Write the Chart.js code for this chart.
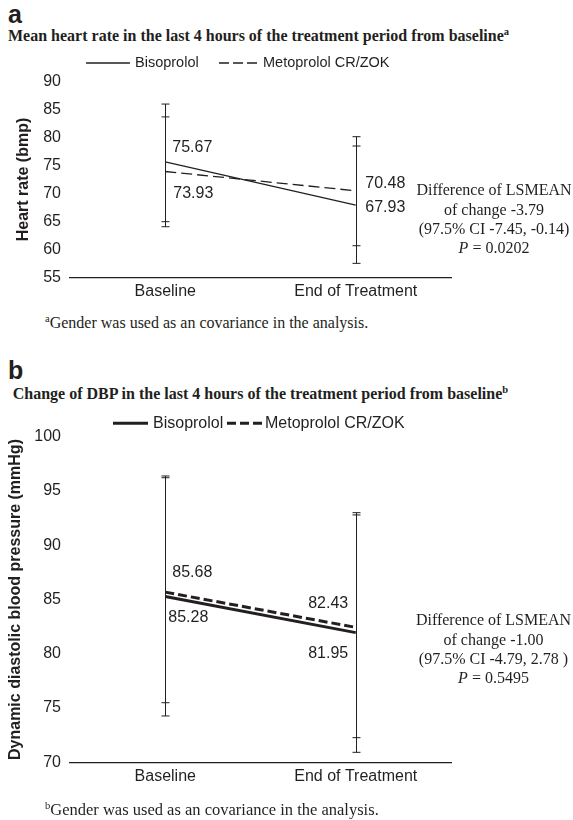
<!DOCTYPE html>
<html><head><meta charset="utf-8">
<script src="https://cdn.jsdelivr.net/npm/chart.js@4.4.1/dist/chart.umd.min.js"></script>
<style>
html,body{margin:0;padding:0;background:#fff;width:573px;height:820px;overflow:hidden;position:relative;color:#231f20}
.t{position:absolute;white-space:nowrap;line-height:0}
.panel{font:bold 25px "Liberation Sans",Arial,sans-serif}
.sub{font:bold 16px "Liberation Serif","Times New Roman",serif}
.foot{font:16px "Liberation Serif","Times New Roman",serif}
.sup{position:relative;font-size:10.5px}
.ann{position:absolute;font:16px "Liberation Serif","Times New Roman",serif;text-align:center;line-height:19.4px;width:200px;white-space:nowrap}
canvas{position:absolute;left:0}
</style></head>
<body>
<div class="t panel" style="left:8px;top:-0.5px">a</div>
<div class="t sub" style="left:8px;top:27px">Mean heart rate in the last 4 hours of the treatment period from baseline<span class="sup" style="top:-6px">a</span></div>
<canvas id="c1" width="573" height="310" style="top:0;width:573px;height:310px"></canvas>
<div class="ann" style="left:394px;top:180.2px">Difference of LSMEAN<br>of change -3.79<br>(97.5% CI -7.45, -0.14)<br><i>P</i> = 0.0202</div>
<div class="t foot" style="left:45px;top:313.6px"><span class="sup" style="top:-6px">a</span>Gender was used as an covariance in the analysis.</div>

<div class="t panel" style="left:8px;top:356px">b</div>
<div class="t sub" style="left:12.7px;top:384.6px">Change of DBP in the last 4 hours of the treatment period from baseline<span class="sup" style="top:-6px">b</span></div>
<canvas id="c2" width="573" height="410" style="top:400px;width:573px;height:410px"></canvas>
<div class="ann" style="left:393.5px;top:610.2px">Difference of LSMEAN<br>of change -1.00<br>(97.5% CI -4.79, 2.78 )<br><i>P</i> = 0.5495</div>
<div class="t foot" style="left:45px;top:799.6px;font-size:16.5px"><span class="sup" style="top:-6px">b</span>Gender was used as an covariance in the analysis.</div>

<script>
// ---------- data ----------
const categories = ['Baseline', 'End of Treatment'];
const seriesNames = ['Bisoprolol', 'Metoprolol CR/ZOK'];

// panel a: heart rate (bmp)
const hrBisoprolol = [75.67, 67.93];
const hrMetoprolol = [73.93, 70.48];
const hrBisoprololLow = [64.95, 57.5];
const hrBisoprololHigh = [86.0, 78.49];
const hrMetoprololLow = [64.05, 60.65];
const hrMetoprololHigh = [83.7, 80.16];
const hrAxis = [55, 90, 5]; // min, max, step

// panel b: dynamic diastolic blood pressure (mmHg)
const dbpBisoprolol = [85.28, 81.95];
const dbpMetoprolol = [85.68, 82.43];
const dbpBisoprololLow = [74.27, 70.92];
const dbpBisoprololHigh = [96.38, 93.0];
const dbpMetoprololLow = [75.49, 72.27];
const dbpMetoprololHigh = [96.22, 92.79];
const dbpAxis = [70, 100, 5];

// ---------- plugins ----------
const INK = '#231f20';
const SANS = '"Liberation Sans", Arial, sans-serif';

const errorBars = {
  id: 'errorBars',
  beforeDatasetsDraw(chart, args, opts) {
    const {ctx, scales: {x, y}} = chart;
    ctx.save();
    ctx.strokeStyle = INK; ctx.lineWidth = opts.width; ctx.setLineDash([]);
    opts.bars.forEach(b => {
      b.low.forEach((lo, i) => {
        const px = Math.round(x.getPixelForValue(i)) + 0.5;
        const yl = y.getPixelForValue(lo), yh = y.getPixelForValue(b.high[i]);
        ctx.beginPath();
        ctx.moveTo(px, yl); ctx.lineTo(px, yh);
        ctx.moveTo(px - opts.cap, yl); ctx.lineTo(px + opts.cap, yl);
        ctx.moveTo(px - opts.cap, yh); ctx.lineTo(px + opts.cap, yh);
        ctx.stroke();
      });
    });
    ctx.restore();
  }
};

const valueLabels = {
  id: 'valueLabels',
  afterDatasetsDraw(chart, args, opts) {
    const {ctx} = chart;
    ctx.save();
    ctx.fillStyle = INK; ctx.font = opts.size + 'px ' + SANS; ctx.textBaseline = 'middle';
    chart.data.datasets.forEach((ds, di) => {
      const meta = chart.getDatasetMeta(di);
      ds.data.forEach((v, i) => {
        const el = meta.data[i];
        const o = opts.offsets[di][i];
        ctx.textAlign = o[2];
        ctx.fillText(v.toFixed(2), el.x + o[0], el.y + o[1]);
      });
    });
    ctx.restore();
  }
};

const lineLegend = {
  id: 'lineLegend',
  afterDraw(chart, args, opts) {
    const {ctx} = chart;
    ctx.save();
    ctx.font = opts.size + 'px ' + SANS; ctx.textBaseline = 'middle'; ctx.textAlign = 'left';
    opts.items.forEach((it, i) => {
      const ds = chart.data.datasets[i];
      ctx.strokeStyle = ds.borderColor; ctx.lineWidth = ds.borderWidth;
      ctx.setLineDash(it.dash);
      ctx.beginPath(); ctx.moveTo(it.x0, opts.y); ctx.lineTo(it.x1, opts.y); ctx.stroke();
      ctx.fillStyle = INK;
      ctx.fillText(ds.label, it.tx, opts.y);
    });
    ctx.restore();
  }
};

function build(id, cfg) {
  return new Chart(document.getElementById(id), {
    type: 'line',
    data: {
      labels: categories,
      datasets: [
        {label: seriesNames[0], data: cfg.biso, borderColor: INK, borderWidth: cfg.lw, borderDash: [], pointRadius: 0, fill: false, tension: 0},
        {label: seriesNames[1], data: cfg.meto, borderColor: INK, borderWidth: cfg.lw, borderDash: cfg.dash, pointRadius: 0, fill: false, tension: 0}
      ]
    },
    options: {
      responsive: false, animation: false, devicePixelRatio: 1,
      layout: {padding: {left: 0, right: 122, top: cfg.padTop, bottom: cfg.padBottom}},
      plugins: {
        legend: {display: false}, tooltip: {enabled: false},
        errorBars: {width: 1, cap: 4, bars: cfg.bars},
        valueLabels: {size: 16, offsets: cfg.labelOffsets},
        lineLegend: cfg.legend
      },
      scales: {
        x: {
          type: 'category', offset: true,
          grid: {display: false, drawTicks: false},
          border: {display: true, color: INK, width: 1.3},
          ticks: {font: {family: SANS, size: 16}, color: INK, padding: 5, maxRotation: 0},
          afterFit(s) { s.height = 23; }
        },
        y: {
          min: cfg.axis[0], max: cfg.axis[1],
          ticks: {stepSize: cfg.axis[2], padding: 9, font: {family: SANS, size: 16}, color: INK},
          grid: {display: false, drawTicks: false},
          border: {display: false},
          title: {display: true, text: cfg.title, color: INK, font: {family: SANS, size: 16, weight: 'bold'}, padding: {top: cfg.titlePad, bottom: 0}},
          afterFit(s) { s.width = 70; }
        }
      }
    },
    plugins: [errorBars, valueLabels, lineLegend]
  });
}

build('c1', {
  biso: hrBisoprolol, meto: hrMetoprolol, lw: 1.3, dash: [11, 5], axis: hrAxis,
  padTop: 81.7, padBottom: 9.7, title: 'Heart rate (bmp)', titlePad: 14,
  bars: [{low: hrBisoprololLow, high: hrBisoprololHigh}, {low: hrMetoprololLow, high: hrMetoprololHigh}],
  labelOffsets: [[[7, -14, 'left'], [9.5, 3, 'left']], [[8, 22, 'left'], [9.5, -7, 'left']]],
  legend: {y: 63, size: 14.5, items: [{x0: 86, x1: 130, tx: 135, dash: []}, {x0: 219, x1: 257, tx: 263, dash: [10, 4]}]}
});

build('c2', {
  biso: dbpBisoprolol, meto: dbpMetoprolol, lw: 3, dash: [9, 4], axis: dbpAxis,
  padTop: 36.7, padBottom: 24.7, title: 'Dynamic diastolic blood pressure (mmHg)', titlePad: 6,
  bars: [{low: dbpBisoprololLow, high: dbpBisoprololHigh}, {low: dbpMetoprololLow, high: dbpMetoprololHigh}],
  labelOffsets: [[[3, 21, 'left'], [-7.5, 21, 'right']], [[7, -19.5, 'left'], [-7.5, -23.5, 'right']]],
  legend: {y: 23.3, size: 16, items: [{x0: 113, x1: 148, tx: 153, dash: []}, {x0: 227, x1: 262, tx: 265, dash: [9, 4]}]}
});
</script>
</body></html>
